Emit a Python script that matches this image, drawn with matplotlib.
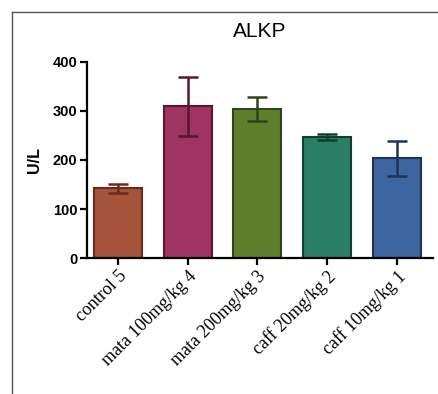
import matplotlib
matplotlib.use('Agg')
import matplotlib.pyplot as plt
from matplotlib.lines import Line2D

groups = ['control 5', 'mata 100mg/kg 4', 'mata 200mg/kg 3', 'caff 20mg/kg 2', 'caff 10mg/kg 1']
means = [142, 309, 304, 246, 203]
errors = [9, 60, 24, 6, 36]
fills = ['#a5533a', '#9e3560', '#5e7f2c', '#2b7f66', '#3d65a0']
edges = ['#6b2a1a', '#5a1530', '#30451a', '#12402f', '#1f3358']
yticks = [0, 100, 200, 300, 400]

fig = plt.figure(figsize=(4.38, 3.94), dpi=100)
ax = fig.add_axes([0.199, 0.345, 0.79, 0.498])

x = range(len(groups))
ax.bar(x, means, width=0.69, color=fills, edgecolor=edges, linewidth=1.5, zorder=2)
for i in x:
    ax.errorbar(i, means[i], yerr=errors[i], color=edges[i], capsize=7.5,
                capthick=1.8, elinewidth=1.8, zorder=3)

ax.set_xlim(-0.44, 4.52)
ax.set_ylim(0, 400)
ax.set_yticks(yticks)
ax.set_yticklabels([str(t) for t in yticks], fontfamily='Liberation Sans',
                   fontweight='bold', fontsize=10.5)
ax.set_xticks(list(x))
ax.set_xticklabels(groups, rotation=45, ha='right', rotation_mode='anchor',
                   fontfamily='Liberation Serif', fontsize=13)
ax.set_ylabel('U/L', fontfamily='Liberation Sans', fontweight='bold', fontsize=11.5, labelpad=8)
ax.set_title('ALKP', fontfamily='Liberation Sans', fontsize=15, pad=18)

for s in ['top', 'right']:
    ax.spines[s].set_visible(False)
for s in ['left', 'bottom']:
    ax.spines[s].set_linewidth(1.6)
ax.tick_params(axis='both', width=1.6, length=5, direction='out', pad=2)

# outer frame (left and top edges)
fig.add_artist(Line2D([12 / 438, 12 / 438], [0, 1 - 12 / 394], transform=fig.transFigure,
                      color='#555555', linewidth=1))
fig.add_artist(Line2D([12 / 438, 1], [1 - 12 / 394, 1 - 12 / 394], transform=fig.transFigure,
                      color='#555555', linewidth=1))

fig.savefig('out.png', dpi=100)
